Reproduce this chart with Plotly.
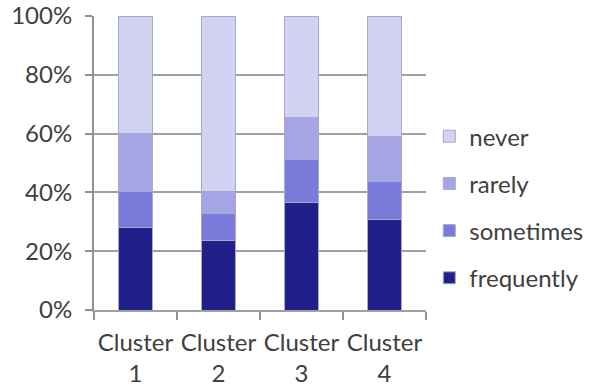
import plotly.graph_objects as go

clusters = ["Cluster<br>1", "Cluster<br>2", "Cluster<br>3", "Cluster<br>4"]
frequently = [28.0, 23.8, 36.4, 30.7]
sometimes = [12.2, 9.1, 14.8, 13.1]
rarely = [19.7, 7.3, 14.3, 15.3]
never = [40.1, 59.8, 34.5, 40.9]

series = [
    ("frequently", frequently, "#20208a"),
    ("sometimes", sometimes, "#7b7bdc"),
    ("rarely", rarely, "#a5a5e6"),
    ("never", never, "#d2d2f3"),
]

font_family = "Lato, Carlito, 'Open Sans', sans-serif"

fig = go.Figure()
for i, (name, vals, color) in enumerate(series):
    fig.add_trace(go.Bar(
        x=clusters, y=vals, name=name, legendgroup=name,
        legendrank=len(series) - i,
        marker=dict(color=color, line=dict(color="#a8a8c8", width=1)),
    ))

fig.update_layout(
    width=589, height=388,
    margin=dict(l=94, r=163, t=16, b=78, autoexpand=False),
    barmode="stack",
    barnorm="percent",
    bargap=0.6,
    plot_bgcolor="white", paper_bgcolor="white",
    font=dict(family=font_family, size=22, color="#404040"),
    showlegend=True,
    legend=dict(
        x=1.01, y=0.35, xanchor="left", yanchor="middle",
        traceorder="grouped", tracegroupgap=13,
        font=dict(size=24, color="#404040"),
        itemwidth=30,
    ),
)
fig.update_yaxes(
    range=[0, 100], tickvals=[0, 20, 40, 60, 80, 100],
    ticktext=["0%", "20%", "40%", "60%", "80%", "100%"],
    showgrid=True, gridcolor="#a0a0a0", gridwidth=2,
    showline=True, linecolor="#909090", linewidth=2,
    ticks="outside", ticklen=7, tickcolor="#909090", tickwidth=2,
    ticklabelstandoff=8,
    tickfont=dict(size=24), zeroline=False, automargin=False,
)
fig.update_xaxes(
    showline=True, linecolor="#a0a0a0", linewidth=2,
    ticks="outside", tickson="boundaries", ticklen=8,
    tickcolor="#909090", tickwidth=2, tickangle=0,
    ticklabelstandoff=10,
    tickfont=dict(size=24), automargin=False,
)

fig.write_html("out.html")
